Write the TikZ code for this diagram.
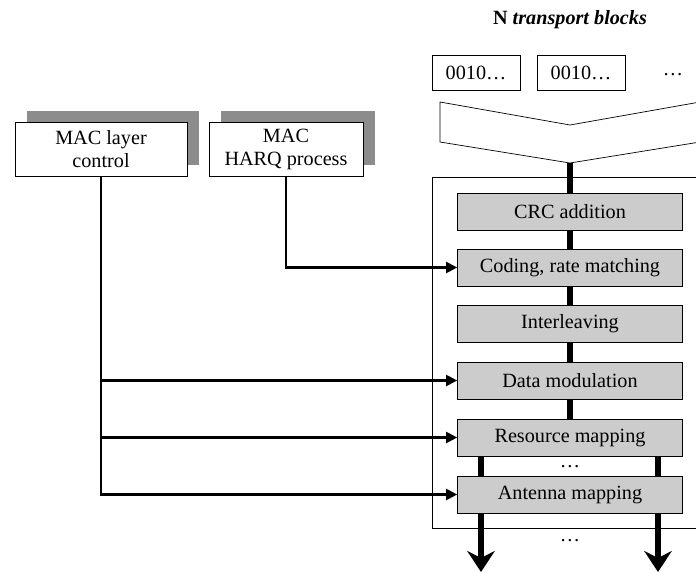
\documentclass[tikz,border=0pt]{standalone}
\usepackage{fontspec}
\setmainfont{Liberation Serif}
\usetikzlibrary{arrows.meta,shadows}

\begin{document}
\begin{tikzpicture}[x=0.02cm, y=-0.02cm,
        font=\fontsize{11.5}{13}\selectfont,
        stage/.style={draw, fill=gray!40, minimum width=4.5cm, minimum height=0.74cm},
        macbox/.style={draw, fill=white, align=center, minimum height=1.08cm,
            general shadow={fill=gray!90, shadow xshift=0.24cm, shadow yshift=0.24cm}},
        tbbox/.style={draw, minimum width=1.76cm, minimum height=0.7cm},
        chain/.style={line width=3.4pt},
        ctl/.style={line width=1.2pt, -{Triangle[length=0.22cm, width=0.22cm]}},
        outarrow/.style={line width=3.4pt, -{Stealth[length=0.42cm, width=0.55cm, inset=0.14cm]}}]
        \useasboundingbox (0,0) rectangle (696,572);

        % Transport blocks
        \node (title) at (570,20) {\bfseries N \itshape transport blocks};
        \node[tbbox] (tb1) at (476,72.5) {0010\dots};
        \node[tbbox] (tb2) at (581,72.5) {0010\dots};
        \node (tbdots) at (673,75) {\dots};

        % Merging shape
        \draw (440,102) -- (570,125) -- (700,102) -- (700,142) -- (570,163) -- (440,142) -- cycle;
        \coordinate (merge) at (570,163);

        % Physical layer frame
        \draw[thin] (720,177) -- (432,177) -- (432,528) -- (720,528);

        % Processing stages
        \node[stage] (crc) at (570,211.5) {CRC addition};
        \node[stage] (coding) at (570,267.5) {Coding, rate matching};
        \node[stage] (inter) at (570,324) {Interleaving};
        \node[stage] (datamod) at (570,380.5) {Data modulation};
        \node[stage] (resmap) at (570,437.5) {Resource mapping};
        \node[stage] (antmap) at (570,494.5) {Antenna mapping};
        \node (midots) at (570,467) {\dots};
        \node (outdots) at (570,541) {\dots};

        % Data chain
        \draw[chain] (merge) -- (crc);
        \draw[chain] (crc) -- (coding);
        \draw[chain] (coding) -- (inter);
        \draw[chain] (inter) -- (datamod);
        \draw[chain] (datamod) -- (resmap);
        \coordinate (outL) at (481,572);
        \coordinate (outR) at (658,572);
        \draw[chain] (resmap.south -| outL) -- (antmap.north -| outL);
        \draw[chain] (resmap.south -| outR) -- (antmap.north -| outR);
        \draw[outarrow] (antmap.south -| outL) -- (outL);
        \draw[outarrow] (antmap.south -| outR) -- (outR);

        % MAC control
        \node[macbox, minimum width=3.44cm] (maclc) at (101,149.5) {MAC layer\\control};
        \node[macbox, minimum width=3.08cm] (harq) at (286,149.5) {MAC\\HARQ process};
        \draw[ctl] (harq.south) |- (coding.west);
        \draw[ctl] (maclc.south) |- (antmap.west);
        \draw[ctl] (maclc.south |- datamod.west) -- (datamod.west);
        \draw[ctl] (maclc.south |- resmap.west) -- (resmap.west);
    \end{tikzpicture}
\end{document}
